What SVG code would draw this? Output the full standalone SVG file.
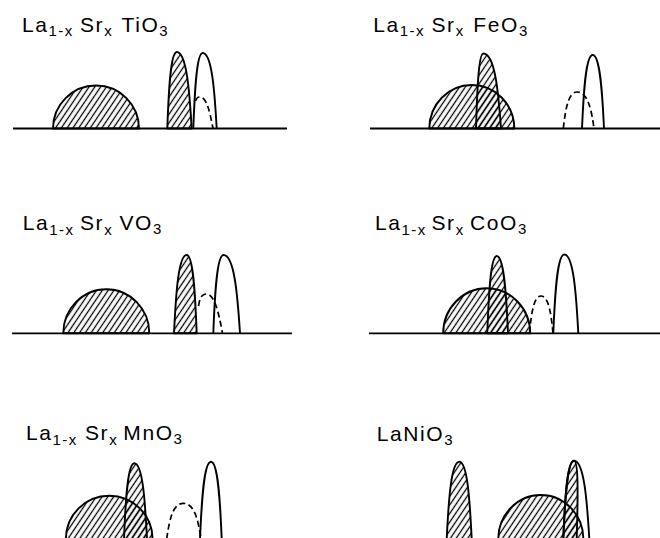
<svg xmlns="http://www.w3.org/2000/svg" width="660" height="538" viewBox="0 0 660 538">
<defs>
<pattern id="hatch" patternUnits="userSpaceOnUse" width="4.8" height="10" patternTransform="rotate(34)">
<line x1="2.4" y1="0" x2="2.4" y2="10" stroke="#000" stroke-width="1.3"/>
</pattern>
</defs>
<style>
.t{font-family:"Liberation Sans",Arial,sans-serif;font-size:21px;letter-spacing:1.6px;fill:#000}
.s{font-size:15px;letter-spacing:1.4px}
.base{stroke:#000;stroke-width:1.8;fill:none}
.hf{fill:url(#hatch);stroke:#000;stroke-width:1.9;stroke-linejoin:round}
.op{fill:none;stroke:#000;stroke-width:1.9}
.da{fill:none;stroke:#000;stroke-width:1.7;stroke-dasharray:6 3.5}
</style>
<rect width="660" height="538" fill="#fff"/>

<g id="panel-TiO3">
<text class="t"><tspan x="22" y="31.7">La</tspan><tspan class="s" y="36">1-x</tspan><tspan x="80" y="31.7">Sr</tspan><tspan class="s" y="36">x</tspan><tspan x="121.5" y="31.7">TiO</tspan><tspan class="s" y="35.5">3</tspan></text>
<path class="base" d="M13,128.5 H287"/>
<path class="hf" d="M53,128.5 A43 43 0 0 1 139,128.5 Z"/>
<path class="hf" d="M167.3,128.5 C168.7,90.25 170.6,52 176.7,52 C186.45,52 189.45,90.25 191.7,128.5 Z"/>
<path class="op" d="M193.3,128.5 C194.7,90.75 196.6,53 202.7,53 C211.8,53 214.6,90.75 216.7,128.5"/>
<path class="da" d="M195.5,101 C196.5,98 197.5,97 199.5,97 C206.9,97 209.6,111.2 213,128.5"/>
</g>

<g id="panel-FeO3">
<text class="t"><tspan x="373.3" y="31.7">La</tspan><tspan class="s" y="36">1-x</tspan><tspan x="431.5" y="31.7">Sr</tspan><tspan class="s" y="36">x</tspan><tspan x="473.3" y="31.7">FeO</tspan><tspan class="s" y="35.5">3</tspan></text>
<path class="base" d="M370,128.5 H660"/>
<path class="hf" d="M429.3,128.5 A42.5 43.5 0 0 1 514.3,128.5 Z"/>
<path class="hf" d="M476,128.5 C477.1,91 478.6,53.5 483.3,53.5 C494.8,53.5 498.3,91 501,128.5 Z"/>
<path class="da" d="M563.3,128.5 C565.4,110.25 568.1,92 577,92 C588,92 591.5,110.25 594,128.5"/>
<path class="op" d="M582,128.5 C583.6,91.75 585.75,55 592.7,55 C600,55 602.3,91.75 604,128.5"/>
</g>

<g id="panel-VO3">
<text class="t"><tspan x="22.7" y="230">La</tspan><tspan class="s" y="234.5">1-x</tspan><tspan x="80" y="230">Sr</tspan><tspan class="s" y="234.5">x</tspan><tspan x="119.5" y="230">VO</tspan><tspan class="s" y="234">3</tspan></text>
<path class="base" d="M12,333.3 H292"/>
<path class="hf" d="M63.3,333.3 A43 44 0 0 1 149.3,333.3 Z"/>
<path class="hf" d="M174,333.3 C175.9,294.15 178.4,255 186.7,255 C193.2,255 195.2,294.15 196.7,333.3 Z"/>
<path class="da" d="M198.5,306 C200,297 202,294 206.5,294 C214,294 218.5,311 222.5,333.3"/>
<path class="op" d="M213.3,333.3 C214.8,294.15 216.9,255 223.5,255 C234.2,255 237.5,294.15 240,333.3"/>
</g>

<g id="panel-CoO3">
<text class="t"><tspan x="375" y="230">La</tspan><tspan class="s" y="234.5">1-x</tspan><tspan x="431.5" y="230">Sr</tspan><tspan class="s" y="234.5">x</tspan><tspan x="470" y="230">CoO</tspan><tspan class="s" y="234">3</tspan></text>
<path class="base" d="M369,333.3 H660"/>
<path class="hf" d="M443.2,333.3 A43.5 45 0 0 1 530.2,333.3 Z"/>
<path class="hf" d="M487.3,333.3 C488.7,294.65 490.6,256 496.7,256 C504,256 506.3,294.65 508,333.3 Z"/>
<path class="da" d="M529.5,333.3 C531.2,314.65 533.5,296 541,296 C548.8,296 551.2,314.65 553,333.3"/>
<path class="op" d="M553.3,333.3 C554.95,293.9 557.15,254.5 564.3,254.5 C573.4,254.5 576.2,293.9 578.3,333.3"/>
</g>

<g id="panel-MnO3">
<text class="t"><tspan x="26" y="440">La</tspan><tspan class="s" y="444.5">1-x</tspan><tspan x="85" y="440">Sr</tspan><tspan class="s" y="444.5">x</tspan><tspan x="123.3" y="440">MnO</tspan><tspan class="s" y="444">3</tspan></text>
<path class="hf" d="M65.9,539 A43.3 43.3 0 0 1 152.5,539 Z"/>
<path class="hf" d="M124,539 C125.5,501.15 127.6,463.3 134.3,463.3 C142.6,463.3 145.1,501.15 147,539 Z"/>
<path class="da" d="M166.7,539 C169.2,521.15 172.5,503.3 183.3,503.3 C194.8,503.3 198.3,521.15 201,539"/>
<path class="op" d="M200,539 C201.65,500.35 203.85,461.7 211,461.7 C217.95,461.7 220.1,500.35 221.7,539"/>
</g>

<g id="panel-NiO3">
<text class="t"><tspan x="376.7" y="441">LaNiO</tspan><tspan class="s" y="445">3</tspan></text>
<path class="hf" d="M446.7,539 C448.6,500.35 451.1,461.7 459.3,461.7 C467.4,461.7 469.8,500.35 471.7,539 Z"/>
<path class="hf" d="M498.3,539 A42.5 44 0 0 1 583.3,539 Z"/>
<path class="hf" d="M563.3,539 C564.9,499.85 567.05,460.7 574,460.7 C578.5,460.7 578,495 576.7,539 Z"/>
<path class="op" d="M563.3,539 C564.9,499.85 567.05,460.7 574,460.7 C583.9,460.7 587,499.85 589.3,539"/>
</g>
</svg>
